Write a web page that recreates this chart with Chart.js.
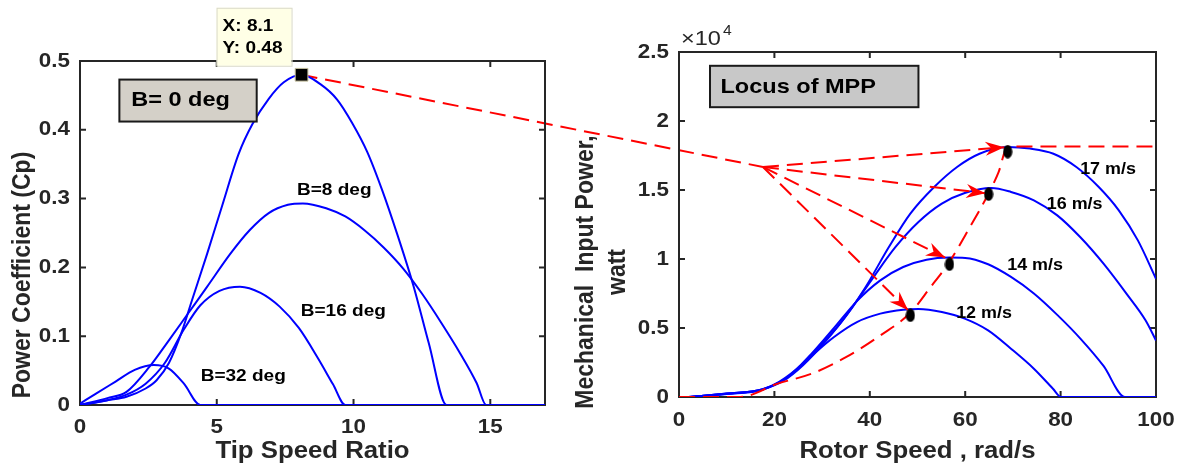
<!DOCTYPE html>
<html><head><meta charset="utf-8">
<script src="https://cdn.jsdelivr.net/npm/chart.js@4.4.1/dist/chart.umd.min.js"></script>
<style>
html,body{margin:0;padding:0;background:#fff;}
#wrap{position:relative;width:1184px;height:464px;overflow:hidden;background:#fff;}
canvas{position:absolute;top:0;}
#overlay{left:0;z-index:0;}
#c1{left:0;z-index:1;}
#c2{left:560px;z-index:1;}
</style></head><body>
<div id="wrap">
<canvas id="overlay" width="1184" height="464"></canvas>
<canvas id="c1" width="560" height="464"></canvas>
<canvas id="c2" width="624" height="464"></canvas>
</div>
<script>
// ---------- LEFT CHART DATA (Cp vs tip speed ratio) ----------
const tsrTicks = [0, 5, 10, 15];
const tsrTickLabels = ['0', '5', '10', '15'];
const cpTicks = [0, 0.1, 0.2, 0.3, 0.4, 0.5];
const cpTickLabels = ['0', '0.1', '0.2', '0.3', '0.4', '0.5'];
const pitchNames = ['B= 0 deg', 'B=8 deg', 'B=16 deg', 'B=32 deg'];

const tsrB0 = [0, 1.0, 1.7, 2.4, 2.8, 3.25, 3.7, 4.1, 4.65, 5.2, 5.8, 6.3, 6.9, 7.45, 8.1, 8.8, 9.4, 9.95, 10.5, 11.05, 11.6, 12.2, 12.75, 13.4, 17];
const cpB0  = [0, 0.007, 0.012, 0.024, 0.036, 0.061, 0.104, 0.153, 0.220, 0.290, 0.365, 0.408, 0.445, 0.469, 0.480, 0.466, 0.444, 0.410, 0.368, 0.312, 0.248, 0.172, 0.090, 0, 0];

const tsrB8 = [0, 1.0, 1.7, 2.55, 3.25, 3.95, 4.65, 5.5, 6.2, 6.9, 7.6, 8.15, 9.0, 9.7, 10.4, 11.1, 11.8, 12.5, 13.2, 13.9, 14.5, 14.85, 17];
const cpB8  = [0, 0.010, 0.019, 0.056, 0.094, 0.133, 0.172, 0.220, 0.254, 0.279, 0.291, 0.293, 0.286, 0.274, 0.254, 0.229, 0.199, 0.162, 0.120, 0.075, 0.032, 0, 0];

const tsrB16 = [0, 1.0, 1.7, 2.4, 3.1, 3.8, 4.4, 5.1, 5.85, 6.6, 7.3, 8.0, 8.7, 9.25, 9.7, 17];
const cpB16  = [0, 0.007, 0.015, 0.031, 0.061, 0.110, 0.145, 0.166, 0.172, 0.163, 0.143, 0.112, 0.068, 0.030, 0, 0];

const tsrB32 = [0, 0.6, 1.3, 2.0, 2.7, 3.25, 3.8, 4.4, 17];
const cpB32  = [0.002, 0.017, 0.034, 0.051, 0.058, 0.053, 0.031, 0, 0];

const mppTsr = [8.1];
const mppCp = [0.48];

// ---------- RIGHT CHART DATA (mechanical power vs rotor speed) ----------
const speedTicks = [0, 20, 40, 60, 80, 100];
const speedTickLabels = ['0', '20', '40', '60', '80', '100'];
const powerTicks = [0, 5000, 10000, 15000, 20000, 25000];
const powerTickLabels = ['0', '0.5', '1', '1.5', '2', '2.5'];
const windNames = ['12 m/s', '14 m/s', '16 m/s', '17 m/s'];

const speed17 = [2, 10, 17.5, 21, 26, 30, 34, 39, 44, 48.5, 53.5, 58.3, 63, 68.8, 73.6, 78.5, 83.3, 88, 92.2, 96.2, 100];
const power17 = [0, 250, 550, 1090, 2420, 3860, 5400, 7900, 10870, 13290, 15220, 16670, 17630, 18120, 18000, 17630, 16670, 15220, 13530, 11350, 8570];

const speed16 = [2, 10, 17.5, 22, 26, 30.9, 35.7, 40.6, 45.4, 50.2, 55.1, 59.9, 65.5, 69.6, 74.4, 79.3, 84.1, 89, 93.8, 97.8, 100];
const power16 = [0, 250, 550, 1200, 2300, 4100, 6200, 8600, 10870, 12680, 14010, 14780, 15150, 14860, 14250, 13160, 11590, 9660, 7490, 5560, 4100];

const speed14 = [2, 10, 17.5, 22.8, 27.7, 32.5, 37.3, 42.2, 47, 51.9, 56.7, 60, 64.8, 69.6, 74.4, 79.3, 84.1, 89, 93.5, 100];
const power14 = [0, 230, 560, 1450, 3100, 5000, 6950, 8450, 9420, 9950, 10100, 10080, 9620, 8700, 7500, 5950, 4250, 2250, 0, 0];

const speed12 = [2, 10, 17.5, 22.8, 27.7, 32.5, 37.3, 42.2, 47, 50.2, 55.1, 59.9, 64.8, 69.6, 74.4, 78.4, 80.1, 100];
const power12 = [0, 220, 530, 1450, 2950, 4350, 5430, 6040, 6330, 6380, 6160, 5680, 4830, 3500, 2050, 600, 0, 0];

const locusSpeed = [0, 12.8, 20.7, 27.9, 35.1, 42.3, 48.5, 52.6, 56.7, 60.8, 64.9, 67, 68.9, 100];
const locusPower = [0, 0, 970, 1700, 2900, 4480, 6100, 7900, 9800, 12200, 14750, 16300, 18150, 18150];

const mppSpeed = [48.5, 56.7, 64.9, 68.9];
const mppPower = [5920, 9620, 14700, 17780];

const hubSpeed = [17.6];
const hubPower = [16670];
const arrowTipSpeed = [48, 55.8, 64.2, 68.2];
const arrowTipPower = [6300, 10100, 14770, 18100];

// ---------- helpers ----------
const FONT = "'Liberation Sans', Arial, Helvetica, sans-serif";
const INK = '#262626';
const BLUE = '#0000ff';
const RED = '#ff0000';
const DASH = [16, 8];
const SX = 1.12; // the source figure's text is slightly widened horizontally
const pts = (xs, ys) => xs.map((x, i) => ({x: x, y: ys[i]}));

function drawText(ctx, s, x, y, size, o) {
  o = o || {};
  ctx.save();
  ctx.font = (o.weight || 'bold') + ' ' + size + 'px ' + FONT;
  ctx.fillStyle = o.color || INK;
  ctx.textAlign = o.align || 'left';
  ctx.textBaseline = o.base || 'middle';
  ctx.translate(x, y);
  ctx.scale(SX, 1);
  if (o.rot) ctx.rotate(o.rot);
  ctx.fillText(s, 0, 0);
  ctx.restore();
}
function textWidth(ctx, s, size, weight) {
  ctx.save();
  ctx.font = (weight || 'bold') + ' ' + size + 'px ' + FONT;
  const w = ctx.measureText(s).width * SX;
  ctx.restore();
  return w;
}

function makeFrame(xLabels, yLabels, xLabelDy) {
  return {
    id: 'frame',
    beforeDatasetsDraw(chart) {
      const ctx = chart.ctx, a = chart.chartArea, x = chart.scales.x, y = chart.scales.y;
      ctx.save();
      ctx.strokeStyle = INK;
      ctx.lineWidth = 2;
      ctx.strokeRect(a.left, a.top, a.right - a.left, a.bottom - a.top);
      ctx.beginPath();
      const L = 6;
      x.ticks.forEach(t => {
        const p = x.getPixelForValue(t.value);
        ctx.moveTo(p, a.bottom); ctx.lineTo(p, a.bottom - L);
        ctx.moveTo(p, a.top); ctx.lineTo(p, a.top + L);
      });
      y.ticks.forEach(t => {
        const p = y.getPixelForValue(t.value);
        ctx.moveTo(a.left, p); ctx.lineTo(a.left + L, p);
        ctx.moveTo(a.right, p); ctx.lineTo(a.right - L, p);
      });
      ctx.stroke();
      ctx.restore();
      x.ticks.forEach((t, i) => drawText(ctx, xLabels[i], x.getPixelForValue(t.value), a.bottom + xLabelDy, 20, {align: 'center'}));
      y.ticks.forEach((t, i) => drawText(ctx, yLabels[i], a.left - 10, y.getPixelForValue(t.value), 20, {align: 'right'}));
    }
  };
}

function lineSet(data, color, extra) {
  return Object.assign({
    data: data, showLine: true, borderColor: color, backgroundColor: color,
    borderWidth: 2, pointRadius: 0, cubicInterpolationMode: 'monotone', order: 5
  }, extra || {});
}

function axisCfg(min, max, ticks, isY, size) {
  return {
    type: 'linear', min: min, max: max,
    grid: {display: false, drawTicks: false},
    border: {display: false},
    afterBuildTicks: s => { s.ticks = ticks.map(v => ({value: v})); },
    afterFit: s => { if (isY) s.width = size; else s.height = size; },
    ticks: {display: false}
  };
}

// ---------- LEFT CHART ----------
const leftNotes = {
  box: {x0: 1.44, x1: 6.46, y0: 0.473, y1: 0.412, tx: 1.87, ty: 0.4426},
  labels: [{x: 7.93, y: 0.3115}, {x: 8.07, y: 0.1357}, {x: 4.41, y: 0.0412}]
};

const leftAnno = {
  id: 'leftAnno',
  afterDraw(chart) {
    const ctx = chart.ctx, a = chart.chartArea, X = chart.scales.x, Y = chart.scales.y;
    const b = leftNotes.box;
    const bx0 = X.getPixelForValue(b.x0), bx1 = X.getPixelForValue(b.x1);
    const by0 = Y.getPixelForValue(b.y0), by1 = Y.getPixelForValue(b.y1);
    ctx.save();
    ctx.fillStyle = '#d4d0c8';
    ctx.fillRect(bx0, by0, bx1 - bx0, by1 - by0);
    ctx.strokeStyle = '#1a1a1a'; ctx.lineWidth = 2;
    ctx.strokeRect(bx0, by0, bx1 - bx0, by1 - by0);
    ctx.restore();
    drawText(ctx, pitchNames[0], X.getPixelForValue(b.tx), Y.getPixelForValue(b.ty), 21, {color: '#000'});
    leftNotes.labels.forEach((l, i) => {
      drawText(ctx, pitchNames[i + 1], X.getPixelForValue(l.x), Y.getPixelForValue(l.y), 17, {color: '#000'});
    });
    // data tip
    const mx = X.getPixelForValue(mppTsr[0]), my = Y.getPixelForValue(mppCp[0]);
    ctx.save();
    ctx.fillStyle = '#ffffe6';
    ctx.strokeStyle = '#d9d9c9'; ctx.lineWidth = 1;
    ctx.fillRect(mx - 85, my - 67, 75, 58);
    ctx.strokeRect(mx - 85 + 0.5, my - 67 + 0.5, 75, 58);
    ctx.restore();
    drawText(ctx, 'X: ' + mppTsr[0], mx - 79, my - 48, 17, {color: '#000'});
    drawText(ctx, 'Y: ' + mppCp[0], mx - 79, my - 26, 17, {color: '#000'});
    // axis titles
    drawText(ctx, 'Tip Speed Ratio', (a.left + a.right) / 2, 452, 23, {align: 'center'});
    drawText(ctx, 'Power Coefficient (Cp)', 23, 275, 23, {align: 'center', rot: -Math.PI / 2});
  }
};

const chart1 = new Chart(document.getElementById('c1'), {
  type: 'scatter',
  data: {
    datasets: [
      {data: pts(mppTsr, mppCp), pointStyle: 'rect', pointRadius: 9, backgroundColor: '#000', borderColor: '#c8c3a0', borderWidth: 1, order: 1},
      lineSet(pts(tsrB0, cpB0), BLUE),
      lineSet(pts(tsrB8, cpB8), BLUE),
      lineSet(pts(tsrB16, cpB16), BLUE),
      lineSet(pts(tsrB32, cpB32), BLUE)
    ]
  },
  options: {
    responsive: false, animation: false, devicePixelRatio: 1, events: [],
    layout: {padding: {left: 0, top: 61, right: 15, bottom: 0}},
    plugins: {legend: {display: false}, tooltip: {enabled: false}},
    scales: {
      x: axisCfg(0, 17, tsrTicks, false, 59),
      y: axisCfg(0, 0.5, cpTicks, true, 80)
    }
  },
  plugins: [makeFrame(tsrTickLabels, cpTickLabels, 22), leftAnno]
});

// ---------- RIGHT CHART ----------
const dot = document.createElement('canvas');
dot.width = 10; dot.height = 14;
(function () {
  const c = dot.getContext('2d');
  c.fillStyle = '#000';
  c.beginPath(); c.ellipse(5, 7, 4.6, 6.8, 0, 0, Math.PI * 2); c.fill();
})();

const rightNotes = {
  box: {x0: 6.5, x1: 50.2, y0: 24000, y1: 21000, tx: 8.7, ty: 22420},
  labels: [{x: 58.1, y: 6040}, {x: 68.8, y: 9540}, {x: 77.1, y: 13940}, {x: 84.1, y: 16500}]
};

function arrowHead(ctx, x0, y0, x1, y1) {
  const ang = Math.atan2(y1 - y0, x1 - x0);
  ctx.save();
  ctx.translate(x1, y1); ctx.rotate(ang);
  ctx.beginPath();
  ctx.moveTo(0, 0); ctx.lineTo(-19, -7); ctx.lineTo(-13, 0); ctx.lineTo(-19, 7); ctx.closePath();
  ctx.fillStyle = RED; ctx.fill();
  ctx.restore();
}

const rightAnno = {
  id: 'rightAnno',
  afterDraw(chart) {
    const ctx = chart.ctx, a = chart.chartArea, X = chart.scales.x, Y = chart.scales.y;
    const hx = X.getPixelForValue(hubSpeed[0]), hy = Y.getPixelForValue(hubPower[0]);
    arrowTipSpeed.forEach((s, i) => {
      arrowHead(ctx, hx, hy, X.getPixelForValue(s), Y.getPixelForValue(arrowTipPower[i]));
    });
    const b = rightNotes.box;
    const bx0 = X.getPixelForValue(b.x0), bx1 = X.getPixelForValue(b.x1);
    const by0 = Y.getPixelForValue(b.y0), by1 = Y.getPixelForValue(b.y1);
    ctx.save();
    ctx.fillStyle = '#c8c8c8';
    ctx.fillRect(bx0, by0, bx1 - bx0, by1 - by0);
    ctx.strokeStyle = '#1a1a1a'; ctx.lineWidth = 2;
    ctx.strokeRect(bx0, by0, bx1 - bx0, by1 - by0);
    ctx.restore();
    drawText(ctx, 'Locus of MPP', X.getPixelForValue(b.tx), Y.getPixelForValue(b.ty), 21, {color: '#000'});
    rightNotes.labels.forEach((l, i) => {
      drawText(ctx, windNames[i], X.getPixelForValue(l.x), Y.getPixelForValue(l.y), 16, {color: '#000'});
    });
    // exponent label
    const w = textWidth(ctx, '\u00d710', 21, 'normal');
    drawText(ctx, '\u00d710', a.left + 2, a.top - 7, 21, {weight: 'normal', base: 'alphabetic'});
    drawText(ctx, '4', a.left + 4 + w, a.top - 17, 14, {weight: 'normal', base: 'alphabetic'});
    // axis titles
    drawText(ctx, 'Rotor Speed , rad/s', (a.left + a.right) / 2, 452, 23, {align: 'center'});
    drawText(ctx, 'Mechanical  Input Power,', 26, 272, 23, {align: 'center', rot: -Math.PI / 2});
    drawText(ctx, 'watt', 58, 272, 23, {align: 'center', rot: -Math.PI / 2});
  }
};

const arrowSets = arrowTipSpeed.map((s, i) => lineSet(
  [{x: hubSpeed[0], y: hubPower[0]}, {x: s, y: arrowTipPower[i]}], RED,
  {borderDash: DASH, cubicInterpolationMode: 'default', tension: 0, order: 3}));

const chart2 = new Chart(document.getElementById('c2'), {
  type: 'scatter',
  data: {
    datasets: [
      {data: pts(mppSpeed, mppPower), pointStyle: dot, pointRadius: 6, order: 1},
      lineSet(pts(locusSpeed, locusPower), RED, {borderDash: DASH, order: 2}),
      ...arrowSets,
      lineSet(pts(speed12, power12), BLUE),
      lineSet(pts(speed14, power14), BLUE),
      lineSet(pts(speed16, power16), BLUE),
      lineSet(pts(speed17, power17), BLUE)
    ]
  },
  options: {
    responsive: false, animation: false, devicePixelRatio: 1, events: [],
    layout: {padding: {left: 0, top: 52, right: 28, bottom: 0}},
    plugins: {legend: {display: false}, tooltip: {enabled: false}},
    scales: {
      x: axisCfg(0, 100, speedTicks, false, 67),
      y: axisCfg(0, 25000, powerTicks, true, 119)
    }
  },
  plugins: [makeFrame(speedTickLabels, powerTickLabels, 23), rightAnno]
});

// ---------- connector from the Cp maximum to the arrow hub ----------
(function () {
  const ov = document.getElementById('overlay').getContext('2d');
  const c2left = document.getElementById('c2').offsetLeft;
  const ax = chart1.scales.x.getPixelForValue(mppTsr[0]);
  const ay = chart1.scales.y.getPixelForValue(mppCp[0]);
  const bx = c2left + chart2.scales.x.getPixelForValue(hubSpeed[0]);
  const by = chart2.scales.y.getPixelForValue(hubPower[0]);
  ov.save();
  ov.strokeStyle = RED; ov.lineWidth = 2; ov.setLineDash(DASH);
  ov.beginPath(); ov.moveTo(ax, ay); ov.lineTo(bx, by); ov.stroke();
  ov.restore();
})();
</script>
</body></html>
